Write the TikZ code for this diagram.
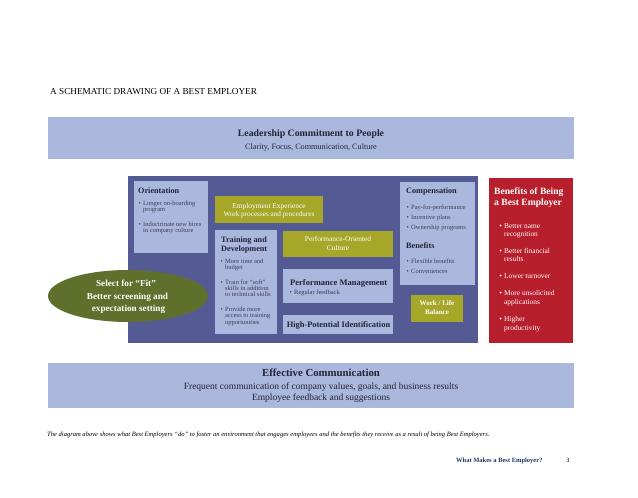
\documentclass[tikz,border=0pt]{standalone}
\usepackage{fontspec}
\setmainfont{Liberation Serif}
\usetikzlibrary{shapes.geometric}
\definecolor{lblue}{RGB}{170,184,222}
\definecolor{core}{RGB}{84,90,148}
\definecolor{olivebox}{RGB}{166,166,40}
\definecolor{egreen}{RGB}{94,112,44}
\definecolor{redbox}{RGB}{183,31,45}
\definecolor{ink}{RGB}{35,35,55}
\definecolor{ink2}{RGB}{60,62,85}
\definecolor{navy}{RGB}{31,56,100}
\begin{document}
\begin{tikzpicture}[x=1pt,y=-1pt,
  box/.style={anchor=north west, inner sep=0pt, outer sep=0pt, draw=none},
  lb/.style={box, fill=lblue},
  ob/.style={box, fill=olivebox},
  tl/.style={anchor=base west, inner sep=0pt, text=ink},
  tc/.style={anchor=base, inner sep=0pt, text=ink},
  hd/.style={tl, font=\bfseries\fontsize{8.2}{9}\selectfont},
  bu/.style={tl, text=ink2, font=\fontsize{6.5}{7}\selectfont},
  wt/.style={tc, text=white},
  rb/.style={tl, text=white, font=\fontsize{7.4}{8}\selectfont},
]
\useasboundingbox (0,0) rectangle (638,498);
\fill[white] (0,0) rectangle (638,498);
\newcommand{\bl}{\llap{\textbullet\hspace{2.2pt}}}

\node[tl, text=black, font=\fontsize{9.2}{10}\selectfont] (title) at (50,94) {A SCHEMATIC DRAWING OF A BEST EMPLOYER};

% top band
\node[lb, minimum width=526pt, minimum height=42pt] (top) at (48,117) {};
\node[tc, font=\bfseries\fontsize{9.8}{11}\selectfont] (topA) at (311,136.5) {Leadership Commitment to People};
\node[tc, font=\fontsize{8.2}{9}\selectfont] (topB) at (311,149) {Clarity, Focus, Communication, Culture};

% core
\node[box, fill=core, minimum width=350pt, minimum height=167pt] (corebox) at (128,176) {};

% orientation
\node[lb, minimum width=74pt, minimum height=72pt] (orient) at (134,181) {};
\node[hd] (orA) at (138,193.7) {Orientation};
\node[bu] (orB) at (143,205) {\bl Longer on-boarding};
\node[bu] (orC) at (143,211) {program};
\node[bu] (orD) at (143,226) {\bl Indoctrinate new hires};
\node[bu] (orE) at (143,232.5) {in company culture};

% employment experience
\node[ob, minimum width=108pt, minimum height=27pt] (empl) at (215,196) {};
\node[wt, font=\fontsize{7.4}{8}\selectfont] (emA) at (269,208.5) {Employment Experience};
\node[wt, font=\fontsize{7.2}{8}\selectfont] (emB) at (269,216.5) {Work processes and procedures};

% training
\node[lb, minimum width=62pt, minimum height=104pt] (train) at (215,230) {};
\node[hd] (trA) at (221,242.5) {Training and};
\node[hd] (trB) at (221,251.5) {Development};
\node[bu] (trC) at (225,263) {\bl More time and};
\node[bu] (trD) at (225,269.5) {budget};
\node[bu] (trE) at (225,284) {\bl Train for “soft”};
\node[bu] (trF) at (225,290) {skills in addition};
\node[bu] (trG) at (225,296) {to technical skills};
\node[bu] (trH) at (225,311) {\bl Provide more};
\node[bu] (trI) at (225,317.5) {access to training};
\node[bu] (trJ) at (225,324) {opportunities};

% performance-oriented culture
\node[ob, minimum width=110pt, minimum height=26pt] (poc) at (283,231) {};
\node[wt, font=\fontsize{7.4}{8}\selectfont] (poA) at (338,241.5) {Performance-Oriented};
\node[wt, font=\fontsize{7.4}{8}\selectfont] (poB) at (338,250.5) {Culture};

% performance management
\node[lb, minimum width=110pt, minimum height=34pt] (pm) at (283,269) {};
\node[hd, font=\bfseries\fontsize{8.5}{9}\selectfont] (pmA) at (290,285) {Performance Management};
\node[bu] (pmB) at (294,294.5) {\bl Regular feedback};

% high-potential
\node[lb, minimum width=110pt, minimum height=19pt] (hp) at (283,315) {};
\node[tc, font=\bfseries\fontsize{8.4}{9}\selectfont] (hpA) at (338.5,327.5) {High-Potential Identification};

% compensation
\node[lb, minimum width=75pt, minimum height=103pt] (comp) at (400,182) {};
\node[hd] (coA) at (406,193.7) {Compensation};
\node[bu] (coB) at (411,209) {\bl Pay-for-performance};
\node[bu] (coC) at (411,219) {\bl Incentive plans};
\node[bu] (coD) at (411,229) {\bl Ownership programs};
\node[hd] (coE) at (406,248.7) {Benefits};
\node[bu] (coF) at (411,263) {\bl Flexible benefits};
\node[bu] (coG) at (411,273) {\bl Conveniences};

% work/life
\node[ob, minimum width=52pt, minimum height=27pt] (wl) at (411,295) {};
\node[wt, font=\bfseries\fontsize{7}{8}\selectfont] (wlA) at (437,305.5) {Work / Life};
\node[wt, font=\bfseries\fontsize{7}{8}\selectfont] (wlB) at (437,314.5) {Balance};

% select for fit
\node[ellipse, fill=egreen, minimum width=160pt, minimum height=52pt, inner sep=0pt] (fit) at (128,296) {};
\node[wt, font=\bfseries\fontsize{9.2}{10}\selectfont] (fiA) at (126,286) {Select for “Fit”};
\node[wt, font=\bfseries\fontsize{9.2}{10}\selectfont] (fiB) at (127.5,299) {Better screening and};
\node[wt, font=\bfseries\fontsize{9.2}{10}\selectfont] (fiC) at (128.5,311) {expectation setting};

% benefits of being a best employer
\node[box, fill=redbox, minimum width=84pt, minimum height=165pt] (ben) at (489,178) {};
\node[tl, text=white, font=\bfseries\fontsize{9.6}{10}\selectfont] (beA) at (494,194.3) {Benefits of Being};
\node[tl, text=white, font=\bfseries\fontsize{9.6}{10}\selectfont] (beB) at (494,205.3) {a Best Employer};
\node[rb] (beC) at (504,228.5) {\bl Better name};
\node[rb] (beD) at (504,236.5) {recognition};
\node[rb] (beE) at (504,253.5) {\bl Better financial};
\node[rb] (beF) at (504,261.5) {results};
\node[rb] (beG) at (504,278.5) {\bl Lower turnover};
\node[rb] (beH) at (504,295.5) {\bl More unsolicited};
\node[rb] (beI) at (504,304.5) {applications};
\node[rb] (beJ) at (504,321.5) {\bl Higher};
\node[rb] (beK) at (504,330.5) {productivity};

% bottom band
\node[lb, minimum width=526pt, minimum height=45pt] (bot) at (48,363) {};
\node[tc, font=\bfseries\fontsize{10.8}{11}\selectfont] (boA) at (321,376) {Effective Communication};
\node[tc, font=\fontsize{9.5}{10}\selectfont] (boB) at (321,389) {Frequent communication of company values, goals, and business results};
\node[tc, font=\fontsize{9.5}{10}\selectfont] (boC) at (321,400.5) {Employee feedback and suggestions};

% caption and footer
\node[tl, text=black, font=\itshape\fontsize{6.55}{8}\selectfont] (cap) at (47,436.5) {The diagram above shows what Best Employers “do” to foster an environment that engages employees and the benefits they receive as a result of being Best Employers.};
\node[tl, text=navy, font=\bfseries\fontsize{6.5}{7}\selectfont] (foot) at (456,462.5) {What Makes a Best Employer?};
\node[tl, text=black, font=\fontsize{6.5}{7}\selectfont] (page) at (566,462.5) {3};
\end{tikzpicture}
\end{document}
